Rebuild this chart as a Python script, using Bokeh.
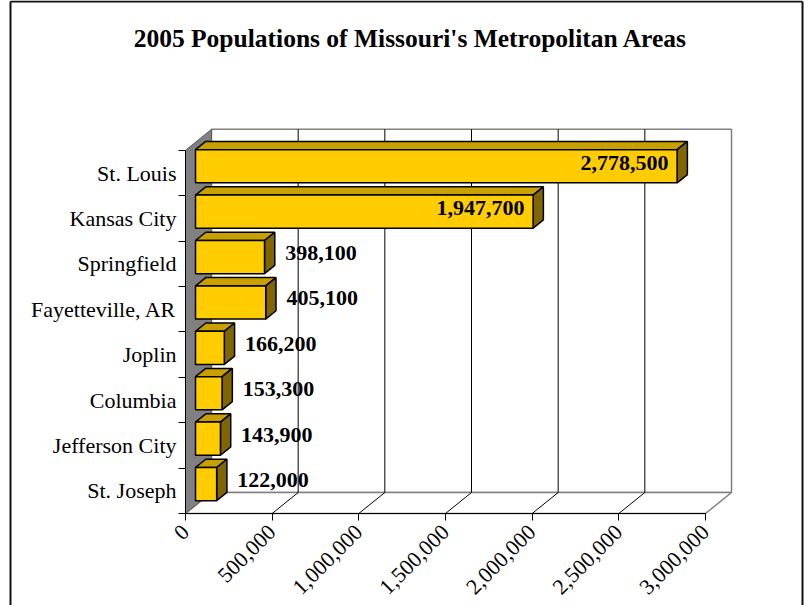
import math
from bokeh.plotting import figure
from bokeh.models import Range1d, FixedTicker, NumeralTickFormatter
from bokeh.core.properties import value
from bokeh.embed import file_html
from bokeh.resources import INLINE

# ---- data (bottom to top) ----
categories = ["St. Joseph", "Jefferson City", "Columbia", "Joplin",
              "Fayetteville, AR", "Springfield", "Kansas City", "St. Louis"]
populations = [122000, 143900, 153300, 166200, 405100, 398100, 1947700, 2778500]
x_ticks = [0, 500000, 1000000, 1500000, 2000000, 2500000, 3000000]
title_text = "2005 Populations of Missouri's Metropolitan Areas"

# ---- layout constants (pixels of the front plane origin) ----
W, H = 809, 605
OX, OY = 185, 513            # pixel of value 0 / band 0 on the front plane
XMAX = 3000000
PX_PER_X = 520 / XMAX
PX_PER_Y = 45.4
N = len(categories)

def px_x(px):
    return (px - OX) / PX_PER_X

def px_y(py):
    return (OY - py) / PX_PER_Y

DX = 26 / PX_PER_X           # depth offset in x
DY = 21 / PX_PER_Y           # depth offset in y
F1, F2 = 0.385, 0.78         # bar front/back depth fraction
B0, B1 = 0.105, 0.835        # bar extent in band

SERIF = value("Liberation Serif")

p = figure(width=W, height=H, output_backend="svg", toolbar_location=None,
           title=None,
           x_range=Range1d(px_x(0), px_x(W)), y_range=Range1d(px_y(H), px_y(0)),
           min_border=0, min_border_left=0, min_border_right=0,
           min_border_top=0, min_border_bottom=0,
           background_fill_color="white", border_fill_color="white")
p.outline_line_color = None
p.grid.visible = False

# outer chart border
p.multi_line(xs=[[px_x(10), px_x(10)], [px_x(802), px_x(802)], [px_x(10), px_x(802)]],
             ys=[[px_y(1), px_y(H + 5)], [px_y(1), px_y(H + 5)], [px_y(1), px_y(1)]],
             line_color="#111111", line_width=2)

# title
p.text(x=[px_x(410)], y=[px_y(38)], text=[title_text], text_align="center",
       text_baseline="middle", text_font=SERIF, text_font_style="bold",
       text_font_size="25.5px", text_color="black")

# back wall
p.quad(left=[DX], right=[XMAX + DX], bottom=[DY], top=[N + DY],
       fill_color="white", line_color="#808080", line_width=1.5)
# floor
p.patch([0, XMAX, XMAX + DX, DX], [0, 0, DY, DY], fill_color="white",
        line_color="#808080", line_width=1.5)
# left wall
p.patch([0, 0, DX, DX], [0, N, N + DY, DY], fill_color="#808080",
        line_color="#606060", line_width=1)

# gridlines (back wall verticals and floor diagonals)
inner = [t for t in x_ticks if 0 < t < XMAX]
p.segment(x0=[t + DX for t in inner], y0=[DY] * len(inner),
          x1=[t + DX for t in inner], y1=[N + DY] * len(inner),
          line_color="black", line_width=1)
p.segment(x0=inner, y0=[0] * len(inner),
          x1=[t + DX for t in inner], y1=[DY] * len(inner),
          line_color="black", line_width=1)

# bars
dx1, dy1 = F1 * DX, F1 * DY
dx2, dy2 = F2 * DX, F2 * DY
idx = list(range(N))
top_xs, top_ys, side_xs, side_ys = [], [], [], []
for i, v in zip(idx, populations):
    t = i + B1
    b = i + B0
    top_xs.append([dx1, v + dx1, v + dx2, dx2])
    top_ys.append([t + dy1, t + dy1, t + dy2, t + dy2])
    side_xs.append([v + dx1, v + dx1, v + dx2, v + dx2])
    side_ys.append([b + dy1, t + dy1, t + dy2, b + dy2])
p.patches(top_xs, top_ys, fill_color="#C8A000", line_color="black", line_width=1.5)
p.patches(side_xs, side_ys, fill_color="#806600", line_color="black", line_width=1.5)
p.quad(left=[dx1] * N, right=[v + dx1 for v in populations],
       bottom=[i + B0 + dy1 for i in idx], top=[i + B1 + dy1 for i in idx],
       fill_color="#FFCC00", line_color="black", line_width=1.5)

# value labels
ins = [(i, v) for i, v in zip(idx, populations) if v > 1000000]
outs = [(i, v) for i, v in zip(idx, populations) if v <= 1000000]
p.text(x=[v + dx1 - 50000 for i, v in ins], y=[i + 0.72 for i, v in ins],
       text=[f"{v:,}" for i, v in ins], text_align="right", text_baseline="middle",
       text_font=SERIF, text_font_style="bold", text_font_size="22px", text_color="black")
p.text(x=[v + dx2 + 60000 for i, v in outs], y=[i + 0.74 for i, v in outs],
       text=[f"{v:,}" for i, v in outs], text_align="left", text_baseline="middle",
       text_font=SERIF, text_font_style="bold", text_font_size="22px", text_color="black")

# axes (fixed on the front plane)
xa = p.xaxis[0]
xa.fixed_location = 0
xa.bounds = (0, XMAX)
xa.ticker = FixedTicker(ticks=x_ticks, minor_ticks=[])
xa.formatter = NumeralTickFormatter(format="0,0")
xa.major_label_orientation = math.pi / 4
xa.major_tick_out = 7
xa.major_tick_in = 0
xa.minor_tick_out = 0
xa.axis_line_color = "black"
xa.major_tick_line_color = "black"
xa.major_label_text_font = "Liberation Serif"
xa.major_label_text_font_size = "22px"
xa.major_label_text_color = "black"
xa.major_label_standoff = 8

ya = p.yaxis[0]
ya.fixed_location = 0
ya.bounds = (0, N)
ya.ticker = FixedTicker(ticks=[i + 0.5 for i in idx], minor_ticks=list(range(N + 1)))
ya.major_label_overrides = {i + 0.5: c for i, c in zip(idx, categories)}
ya.major_tick_out = 0
ya.major_tick_in = 0
ya.minor_tick_out = 7
ya.minor_tick_in = 0
ya.minor_tick_line_color = "black"
ya.axis_line_color = "black"
ya.major_label_text_font = "Liberation Serif"
ya.major_label_text_font_size = "22px"
ya.major_label_text_color = "black"
ya.major_label_standoff = 2

open("out.html", "w").write(file_html(p, INLINE))
